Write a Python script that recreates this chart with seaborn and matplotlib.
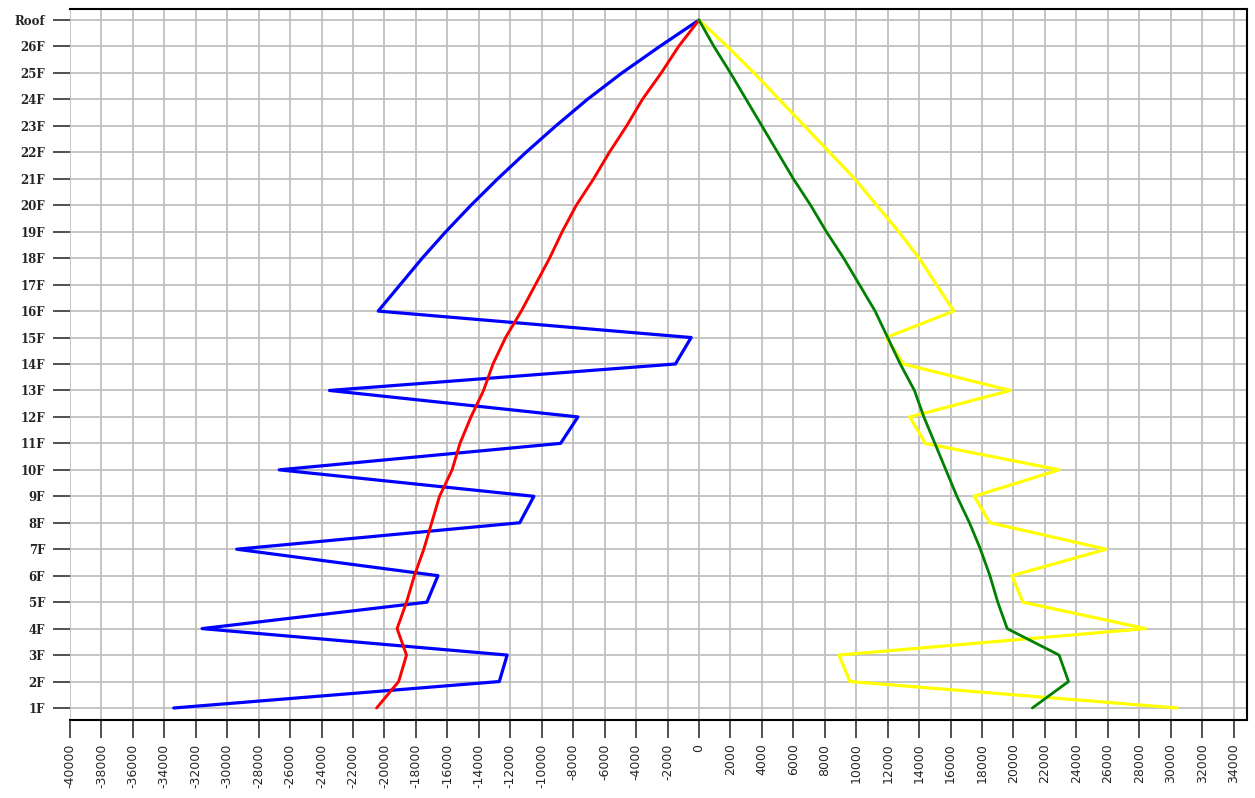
import numpy as np
import pandas as pd
import matplotlib.pyplot as plt
import seaborn as sns

floors = ["1F", "2F", "3F", "4F", "5F", "6F", "7F", "8F", "9F", "10F", "11F", "12F", "13F",
          "14F", "15F", "16F", "17F", "18F", "19F", "20F", "21F", "22F", "23F", "24F",
          "25F", "26F", "Roof"]
level = np.arange(1, len(floors) + 1)

blue = [-33400, -12700, -12200, -31600, -17300, -16600, -29400, -11400, -10500, -26700,
        -8800, -7700, -23500, -1500, -500, -20400, -19000, -17600, -16100, -14500,
        -12800, -11000, -9100, -7100, -4900, -2500, 0]
red = [-20500, -19100, -18600, -19200, -18600, -18100, -17500, -17000, -16500, -15700,
       -15200, -14500, -13700, -13100, -12300, -11300, -10400, -9500, -8700, -7800,
       -6700, -5700, -4600, -3600, -2400, -1300, 0]
green = [21200, 23500, 22900, 19600, 19000, 18500, 17900, 17200, 16400, 15700,
         15000, 14300, 13700, 12800, 12000, 11200, 10200, 9200, 8100, 7100,
         6000, 5000, 4000, 3000, 2000, 950, 0]
yellow = [30400, 9600, 8900, 28400, 20600, 19900, 25900, 18500, 17500, 22900,
          14400, 13400, 19800, 13000, 11900, 16200, 15100, 14000, 12700, 11300,
          9900, 8300, 6700, 5100, 3500, 1800, 0]

xticks = np.arange(-40000, 34001, 2000)

sns.set_style("white")
plt.rcParams['font.family'] = ['DejaVu Sans']

fig = plt.figure(figsize=(12.55, 7.98), dpi=100)
ax = fig.add_axes([70 / 1255, 78 / 798, 1177 / 1255, 711 / 798])

series = [(blue, "#0000ff", 2.3), (red, "#ff0000", 2.1),
          (yellow, "#ffff00", 2.3), (green, "#008000", 2.0)]
for vals, col, lw in series:
    df = pd.DataFrame({"x": vals, "y": level})
    sns.lineplot(data=df, x="x", y="y", sort=False, estimator=None,
                 color=col, lw=lw, ax=ax, legend=False)

ax.set_xlim(-40000, 34850)
ax.set_ylim(0.546, 27.416)
ax.set_xticks(xticks)
ax.set_xticklabels([str(v) for v in xticks], rotation=90, va="top", fontsize=9)
ax.set_yticks(level)
ax.set_yticklabels(floors, fontsize=8.5, family="DejaVu Serif", fontweight="bold")
ax.set_xlabel("")
ax.set_ylabel("")

ax.grid(True, color="#c0c0c0", lw=1.3)
ax.set_axisbelow(True)
for s in ["top", "bottom", "right"]:
    ax.spines[s].set_color("black")
    ax.spines[s].set_linewidth(1.5)
ax.spines["left"].set_visible(False)

ax.tick_params(axis="x", length=13, width=1.1, color="#202020", pad=4, bottom=True)
ax.tick_params(axis="y", length=12, width=1.1, color="#202020", pad=6, left=True)

fig.savefig("out.png", dpi=100)
